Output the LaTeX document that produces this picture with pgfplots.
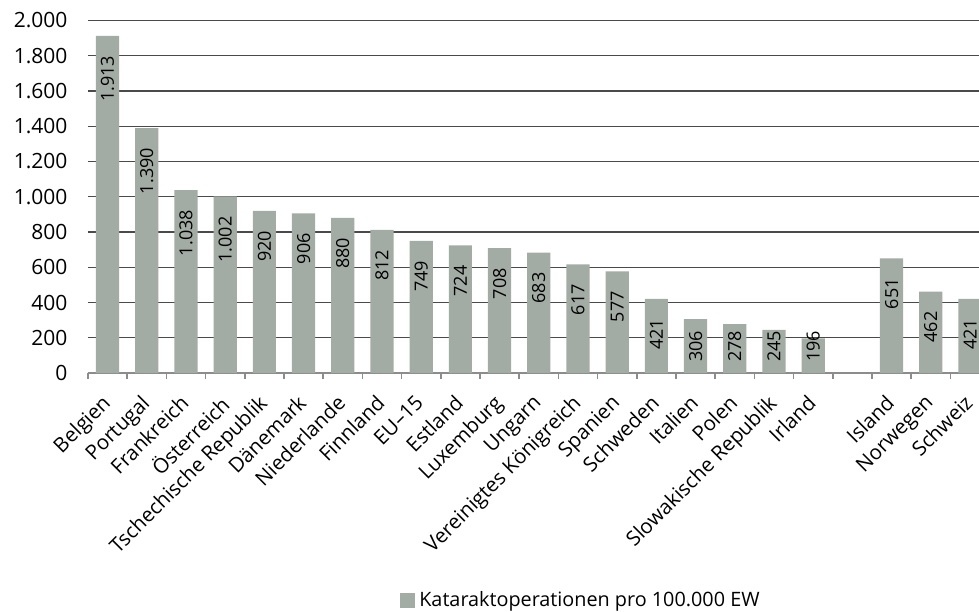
\documentclass[border=0pt]{standalone}
\usepackage{pgfplots}
\usepackage{pgfplotstable}
\pgfplotsset{compat=1.18}
\usepackage{fontspec}
\setmainfont{Open Sans}
\definecolor{barfill}{HTML}{A3ABA5}
\definecolor{gridc}{HTML}{4A4A4A}
\definecolor{axisc}{HTML}{8C8C8C}

\pgfplotstableread{
idx value
0  1913
1  1390
2  1038
3  1002
4  920
5  906
6  880
7  812
8  749
9  724
10 708
11 683
12 617
13 577
14 421
15 306
16 278
17 245
18 196
20 651
21 462
22 421
}\cataract

\begin{document}
\begin{tikzpicture}
\begin{axis}[
  scale only axis,
  width=445.5pt, height=176.25pt,
  xmin=-0.5, xmax=22.23,
  ymin=0, ymax=2000,
  ybar, bar width=11.6pt,
  axis line style={draw=none},
  axis x line*=bottom,
  x axis line style={draw=axisc, line width=0.8pt},
  ytick={0,200,...,2000},
  ymajorgrids,
  major grid style={draw=gridc, line width=0.6pt},
  ytick style={draw=none},
  yticklabel style={font=\fontsize{10.5}{12}\selectfont, xshift=-2.5pt},
  scaled y ticks=false,
  /pgf/number format/.cd, 1000 sep={.}, assume math mode=true,
  /pgfplots/.cd,
  xtick={0,...,18,20,21,22},
  xticklabels={Belgien,Portugal,Frankreich,Österreich,Tschechische Republik,Dänemark,Niederlande,Finnland,EU–15,Estland,Luxemburg,Ungarn,Vereinigtes Königreich,Spanien,Schweden,Italien,Polen,Slowakische Republik,Irland,Island,Norwegen,Schweiz},
  xticklabel style={font=\fontsize{10.2}{12}\selectfont, yshift=-1pt, xshift=-3.5pt, rotate=45, anchor=north east},
  major x tick style={draw=none},
  minor xtick={-0.5,0.5,...,21.5},
  minor x tick style={draw=axisc, line width=0.8pt},
  minor tick length=3pt,
  tick align=outside,
  legend style={at={(0.5544,-0.644)}, anchor=center, draw=none, font=\fontsize{9.9}{12}\selectfont, legend cell align=left,
    /tikz/every even column/.append style={column sep=0pt}},
  legend image code/.code={\fill[barfill] (0pt,-3.75pt) rectangle (7.5pt,3.75pt);},
]
\addplot[fill=barfill, draw=none, bar shift=0pt] table[x=idx, y=value] {\cataract};
\addlegendentry{Kataraktoperationen pro 100.000 EW}
% value labels: inside the bar top, kept clear of the axis for short bars
\addplot[forget plot, draw=none, fill=none, bar shift=0pt,
  point meta=explicit,
  nodes near coords,
  every node near coord/.append style={font=\fontsize{9}{10}\selectfont, rotate=90, anchor=east, xshift=-6.5pt, text=black}]
  table[x=idx, y expr={max(\thisrow{value},352)}, meta=value] {\cataract};
\end{axis}
\pgfresetboundingbox
\path[use as bounding box] (-44pt,-119pt) rectangle (445.5pt,186.5pt);
\end{tikzpicture}
\end{document}
